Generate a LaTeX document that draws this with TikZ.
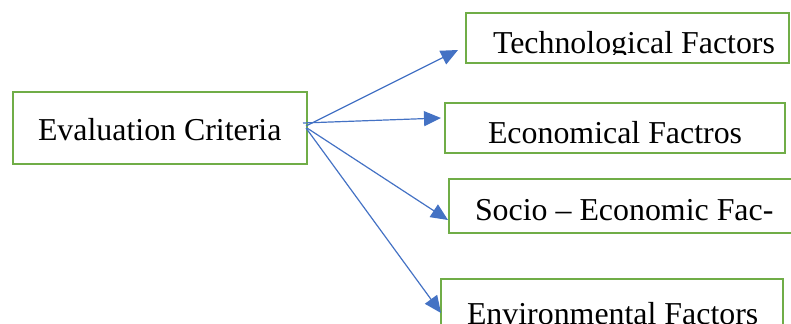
\documentclass[tikz,border=0pt]{standalone}
\usepackage{fontspec}
\setmainfont{Liberation Serif}
\usetikzlibrary{arrows.meta}
\definecolor{boxgreen}{HTML}{70AD47}
\definecolor{arrblue}{HTML}{4472C4}
\begin{document}
\begin{tikzpicture}[x=1bp,y=-1bp,
  frame/.style={draw=boxgreen,line width=2.2bp},
  label/.style={anchor=base west,inner sep=0pt,outer sep=0pt,font=\fontsize{32}{38}\selectfont},
  conn/.style={draw=arrblue,line width=1.2bp,-{Triangle[length=17bp,width=15bp]}}]
\useasboundingbox (0,0) rectangle (791,323);
% boxes
\draw[frame] (13,92) rectangle (307,164);
\draw[frame] (466,13) rectangle (789,63);
\draw[frame] (445,103) rectangle (785,153);
\draw[frame] (449,179) rectangle (795,233);
\draw[frame] (441,279) rectangle (783,335);
% texts
\node[label] (eval) at (38,140) {Evaluation Criteria};
\begin{scope}
\clip (468,15) rectangle (787,54);
\node[label] (tech) at (493,53) {Technological Factors};
\end{scope}
\node[label] (econ) at (488,143) {Economical Factros};
\node[label] (socio) at (475,220) {Socio – Economic Fac-};
\begin{scope}
\clip (443,281) rectangle (781,323);
\node[label] (env) at (467,324) {Environmental Factors};
\end{scope}
% connector end points
\coordinate (s1) at (306,126);
\coordinate (s2) at (303,123);
\coordinate (s3) at (307,128);
\coordinate (s4) at (306,128);
\coordinate (t1) at (458,50);
\coordinate (t2) at (441,118);
\coordinate (t3) at (448,220);
\coordinate (t4) at (441,313);
\draw[conn] (s1) -- (t1);
\draw[conn] (s2) -- (t2);
\draw[conn] (s3) -- (t3);
\draw[conn] (s4) -- (t4);
\end{tikzpicture}
\end{document}
